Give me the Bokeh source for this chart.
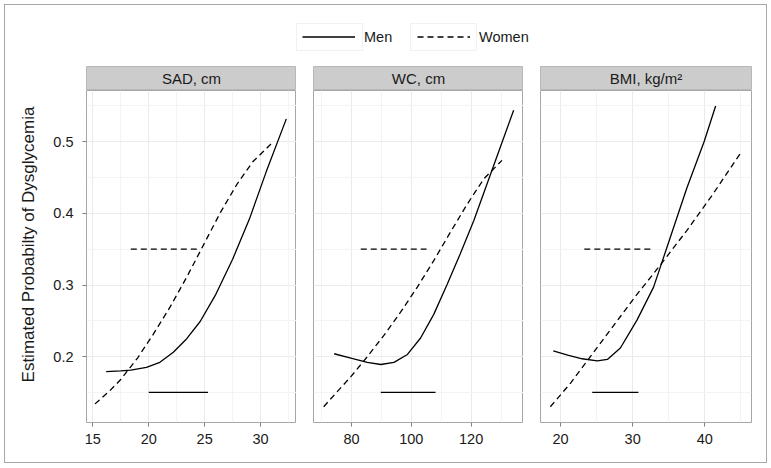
from math import pi
from bokeh.plotting import figure
from bokeh.models import Range1d, FixedTicker, Label, Legend, LegendItem, BoxAnnotation
from bokeh.layouts import row, column
from bokeh.embed import file_html
from bokeh.resources import INLINE

FONT = "Liberation Sans"

# ---------------- data ----------------
panel_titles = ["SAD, cm", "WC, cm", "BMI, kg/m\u00b2"]
legend_labels = ["Men", "Women"]
y_title = "Estimated Probabilty of Dysglycemia"

y_ticks = [0.2, 0.3, 0.4, 0.5]
y_minor = [0.15, 0.25, 0.35, 0.45, 0.55]
y_lim = (0.108, 0.5716)

sad_ticks = [15, 20, 25, 30]
sad_minor = [12.5, 17.5, 22.5, 27.5, 32.5]
sad_lim = (14.44, 33.21)
sad_x_men = [16.2, 17.5, 18.4, 19.8, 21.0, 22.2, 23.4, 24.6, 26.0, 27.5, 29.0, 30.5, 32.3]
sad_y_men = [0.179, 0.180, 0.181, 0.185, 0.192, 0.206, 0.225, 0.249, 0.287, 0.336, 0.392, 0.458, 0.532]
sad_x_women = [15.2, 16.5, 17.5, 19.0, 20.4, 21.9, 23.4, 24.9, 26.4, 27.9, 29.3, 31.0]
sad_y_women = [0.134, 0.152, 0.168, 0.198, 0.231, 0.269, 0.311, 0.356, 0.401, 0.441, 0.472, 0.498]
sad_range_men = [20.0, 25.3]
sad_range_women = [18.4, 24.3]

wc_ticks = [80, 100, 120]
wc_minor = [70, 90, 110, 130]
wc_lim = (67.3, 137.5)
wc_x_men = [74.2, 79.8, 85.3, 89.8, 94.2, 98.7, 103.1, 107.5, 112.0, 116.4, 120.9, 125.3, 129.8, 134.2]
wc_y_men = [0.204, 0.198, 0.192, 0.189, 0.192, 0.203, 0.226, 0.259, 0.301, 0.344, 0.390, 0.441, 0.493, 0.544]
wc_x_women = [70.7, 75.0, 79.8, 85.3, 90.9, 96.4, 102.0, 107.5, 113.1, 118.7, 124.2, 130.3]
wc_y_women = [0.130, 0.150, 0.172, 0.200, 0.230, 0.262, 0.297, 0.334, 0.374, 0.413, 0.448, 0.474]
wc_range_men = [89.8, 108.1]
wc_range_women = [83.1, 105.1]

bmi_ticks = [20, 30, 40]
bmi_minor = [15, 25, 35, 45]
bmi_lim = (17.23, 46.47)
bmi_x_men = [19.0, 21.0, 23.0, 25.1, 26.5, 28.3, 30.6, 32.9, 34.1, 35.2, 37.5, 39.9, 41.5]
bmi_y_men = [0.208, 0.202, 0.197, 0.194, 0.196, 0.212, 0.251, 0.297, 0.333, 0.366, 0.435, 0.500, 0.550]
bmi_x_women = [18.6, 21.4, 23.7, 26.0, 28.3, 30.6, 32.9, 34.3, 37.5, 41.2, 45.0]
bmi_y_women = [0.130, 0.163, 0.194, 0.225, 0.256, 0.287, 0.316, 0.334, 0.376, 0.428, 0.485]
bmi_range_men = [24.4, 30.8]
bmi_range_women = [23.3, 32.5]

level_men = 0.15
level_women = 0.35

# ---------------- styling ----------------
DASH = "6 4"
LW = 1.3
GRID = "#ebebeb"
MINOR = "#f4f4f4"
BORDER = "#a6a6a6"
TXT = "#1a1a1a"
TICKFS = "14.5px"

panels = [
    dict(title=panel_titles[0], ticks=sad_ticks, minor=sad_minor, lim=sad_lim,
         xm=sad_x_men, ym=sad_y_men, xw=sad_x_women, yw=sad_y_women,
         rm=sad_range_men, rw=sad_range_women, fw=210, ml=41, mr=0, yaxis=True),
    dict(title=panel_titles[1], ticks=wc_ticks, minor=wc_minor, lim=wc_lim,
         xm=wc_x_men, ym=wc_y_men, xw=wc_x_women, yw=wc_y_women,
         rm=wc_range_men, rw=wc_range_women, fw=210, ml=17, mr=0, yaxis=False),
    dict(title=panel_titles[2], ticks=bmi_ticks, minor=bmi_minor, lim=bmi_lim,
         xm=bmi_x_men, ym=bmi_y_men, xw=bmi_x_women, yw=bmi_y_women,
         rm=bmi_range_men, rw=bmi_range_women, fw=211, ml=17, mr=15, yaxis=False),
]


def blank(**kw):
    f = figure(x_axis_location=None, y_axis_location=None, toolbar_location=None,
               output_backend="svg", min_border_left=0, min_border_right=0,
               min_border_top=0, min_border_bottom=0, border_fill_color="white", **kw)
    f.xgrid.visible = False
    f.ygrid.visible = False
    return f


# y-axis title column (spans strips + panels, like ggplot)
tf = blank(width=40, height=396, x_range=Range1d(0, 40), y_range=Range1d(396, 0),
           outline_line_color=None, background_fill_color="white")
tf.add_layout(Label(x=23, y=178, text=y_title, angle=pi / 2, text_align="center",
                    text_baseline="middle", text_font=FONT, text_font_size="17px", text_color=TXT))

cols = [tf]
for d in panels:
    s = blank(frame_width=d["fw"], frame_height=24, x_range=Range1d(0, 1), y_range=Range1d(0, 1),
              background_fill_color="#cccccc", outline_line_color="#b8b8b8")
    s.min_border_left = d["ml"]
    s.min_border_right = d["mr"]
    s.add_layout(Label(x=0.5, y=0.5, text=d["title"], text_align="center", text_baseline="middle",
                       text_font=FONT, text_font_size="15px", text_color=TXT))

    p = figure(frame_width=d["fw"], frame_height=332,
               x_range=Range1d(*d["lim"]), y_range=Range1d(*y_lim),
               y_axis_location="left" if d["yaxis"] else None,
               min_border_left=d["ml"], min_border_right=d["mr"], min_border_top=0, min_border_bottom=40,
               background_fill_color="white", border_fill_color="white",
               outline_line_color=BORDER, toolbar_location=None, output_backend="svg")
    xt = FixedTicker(ticks=d["ticks"], minor_ticks=d["minor"])
    yt = FixedTicker(ticks=y_ticks, minor_ticks=y_minor)
    p.xaxis.ticker = xt
    p.xgrid.ticker = xt
    p.ygrid.ticker = yt
    p.xgrid.grid_line_color = GRID
    p.ygrid.grid_line_color = GRID
    p.xgrid.minor_grid_line_color = MINOR
    p.ygrid.minor_grid_line_color = MINOR
    p.xaxis.axis_line_color = None
    p.xaxis.major_tick_line_color = "#7f7f7f"
    p.xaxis.major_tick_out = 4
    p.xaxis.major_tick_in = 0
    p.xaxis.minor_tick_line_color = None
    p.xaxis.major_label_text_font = FONT
    p.xaxis.major_label_text_font_size = TICKFS
    p.xaxis.major_label_text_color = TXT
    p.xaxis.major_label_standoff = 7
    if d["yaxis"]:
        p.yaxis.ticker = yt
        p.yaxis.axis_line_color = None
        p.yaxis.major_tick_line_color = "#7f7f7f"
        p.yaxis.major_tick_out = 4
        p.yaxis.major_tick_in = 0
        p.yaxis.minor_tick_line_color = None
        p.yaxis.major_label_text_font = FONT
        p.yaxis.major_label_text_font_size = TICKFS
        p.yaxis.major_label_text_color = TXT
        p.yaxis.major_label_standoff = 9

    p.line(d["xm"], d["ym"], line_color="black", line_width=LW)
    p.line(d["xw"], d["yw"], line_color="black", line_width=LW, line_dash=DASH)
    p.line(d["rm"], [level_men, level_men], line_color="black", line_width=LW)
    p.line(d["rw"], [level_women, level_women], line_color="black", line_width=LW, line_dash=DASH)

    cols.append(column(s, p, spacing=0))

# ---------------- legend ----------------
lg = blank(width=761, height=61, x_range=Range1d(0, 761), y_range=Range1d(61, 0),
           outline_line_color=None, background_fill_color="white")
# legend glyph sources: real series, placed on an off-screen range so only the legend shows them
lg.extra_x_ranges = {"off": Range1d(-2, -1)}
r_men = lg.line(sad_x_men, sad_y_men, x_range_name="off", line_color="black", line_width=LW)
r_women = lg.line(sad_x_women, sad_y_women, x_range_name="off", line_color="black",
                  line_width=LW, line_dash=DASH)
lg.add_layout(BoxAnnotation(left=291, right=357, top=18, bottom=45, fill_color="white", fill_alpha=1,
                            line_color="#d0d0d0", line_width=1))
lg.add_layout(BoxAnnotation(left=405, right=471, top=18, bottom=45, fill_color="white", fill_alpha=1,
                            line_color="#d0d0d0", line_width=1))
for lab, r, x0 in [(legend_labels[0], r_men, 297), (legend_labels[1], r_women, 412)]:
    leg = Legend(items=[LegendItem(label=lab, renderers=[r])], location=(x0, 16),
                 orientation="horizontal", glyph_width=53, glyph_height=27, label_standoff=9,
                 padding=0, margin=0, spacing=0, border_line_color=None, background_fill_alpha=0,
                 label_text_font=FONT, label_text_font_size=TICKFS, label_text_color=TXT)
    lg.add_layout(leg)

root = column(lg, row(*cols, spacing=0), spacing=0,
              styles={"border": "1px solid #a8a8a8", "margin-left": "4px", "margin-top": "4px"})

open("out.html", "w").write(file_html(root, INLINE))
